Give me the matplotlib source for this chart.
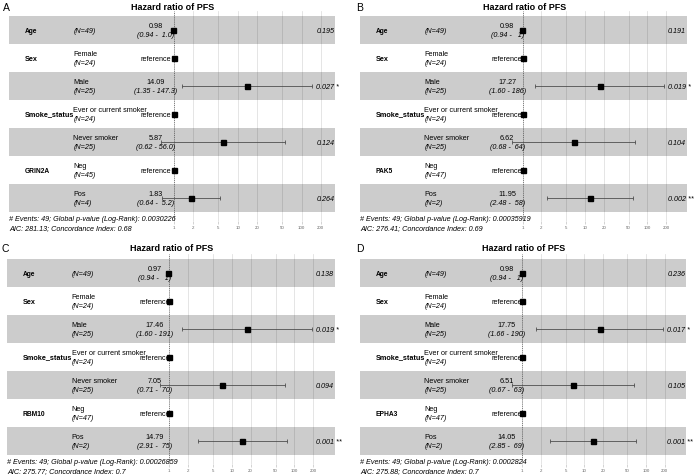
import numpy as np
import matplotlib
matplotlib.use("Agg")
import matplotlib.pyplot as plt
from matplotlib.transforms import offset_copy
from matplotlib.ticker import NullLocator, FixedLocator, FixedFormatter

plt.rcParams["font.family"] = ["Liberation Sans", "DejaVu Sans"]

W, H, DPI = 694, 477, 100
nan = np.nan

# ---------------- data ----------------
title = "Hazard ratio of PFS"
panel_letters = ["A", "B", "C", "D"]
genes = ["GRIN2A", "PAK5", "RBM10", "EPHA3"]
base_variables = ["Age", "Sex", "", "Smoke_status", "", None, ""]
levels = ["", "Female", "Male", "Ever or current smoker", "Never smoker", "Neg", "Pos"]
breaks = [1, 2, 5, 10, 20, 50, 100, 200]
break_labels = ["1", "2", "5", "10", "20", "50", "100", "200"]

n_A = [49, 24, 25, 24, 25, 45, 4]
hr_A = [0.98, 1, 14.09, 1, 5.87, 1, 1.83]
lo_A = [0.94, nan, 1.35, nan, 0.62, nan, 0.64]
hi_A = [1.0, nan, 147.3, nan, 56.0, nan, 5.2]
est_A = ["0.98", "reference", "14.09", "reference", "5.87", "reference", "1.83"]
ci_A = ["(0.94 -  1.0)", "", "(1.35 - 147.3)", "", "(0.62 - 56.0)", "", "(0.64 -  5.2)"]
p_A = ["0.195", "", "0.027 *", "", "0.124", "", "0.264"]
foot_A = ["# Events: 49; Global p-value (Log-Rank): 0.0030226",
          "AIC: 281.13; Concordance Index: 0.68"]

n_B = [49, 24, 25, 24, 25, 47, 2]
hr_B = [0.98, 1, 17.27, 1, 6.62, 1, 11.95]
lo_B = [0.94, nan, 1.60, nan, 0.68, nan, 2.48]
hi_B = [1.0, nan, 186, nan, 64, nan, 58]
est_B = ["0.98", "reference", "17.27", "reference", "6.62", "reference", "11.95"]
ci_B = ["(0.94 -   1)", "", "(1.60 - 186)", "", "(0.68 -  64)", "", "(2.48 -  58)"]
p_B = ["0.191", "", "0.019 *", "", "0.104", "", "0.002 **"]
foot_B = ["# Events: 49; Global p-value (Log-Rank): 0.00035919",
          "AIC: 276.41; Concordance Index: 0.69"]

n_C = [49, 24, 25, 24, 25, 47, 2]
hr_C = [0.97, 1, 17.46, 1, 7.05, 1, 14.79]
lo_C = [0.94, nan, 1.60, nan, 0.71, nan, 2.91]
hi_C = [1.0, nan, 191, nan, 70, nan, 75]
est_C = ["0.97", "reference", "17.46", "reference", "7.05", "reference", "14.79"]
ci_C = ["(0.94 -   1)", "", "(1.60 - 191)", "", "(0.71 -  70)", "", "(2.91 -  75)"]
p_C = ["0.138", "", "0.019 *", "", "0.094", "", "0.001 **"]
foot_C = ["# Events: 49; Global p-value (Log-Rank): 0.00026859",
          "AIC: 275.77; Concordance Index: 0.7"]

n_D = [49, 24, 25, 24, 25, 47, 2]
hr_D = [0.98, 1, 17.75, 1, 6.51, 1, 14.05]
lo_D = [0.94, nan, 1.66, nan, 0.67, nan, 2.85]
hi_D = [1.0, nan, 190, nan, 63, nan, 69]
est_D = ["0.98", "reference", "17.75", "reference", "6.51", "reference", "14.05"]
ci_D = ["(0.94 -   1)", "", "(1.66 - 190)", "", "(0.67 -  63)", "", "(2.85 -  69)"]
p_D = ["0.236", "", "0.017 *", "", "0.105", "", "0.001 **"]
foot_D = ["# Events: 49; Global p-value (Log-Rank): 0.0002824",
          "AIC: 275.88; Concordance Index: 0.7"]

panels = [
    dict(n=n_A, hr=hr_A, lo=lo_A, hi=hi_A, est=est_A, ci=ci_A, p=p_A, foot=foot_A),
    dict(n=n_B, hr=hr_B, lo=lo_B, hi=hi_B, est=est_B, ci=ci_B, p=p_B, foot=foot_B),
    dict(n=n_C, hr=hr_C, lo=lo_C, hi=hi_C, est=est_C, ci=ci_C, p=p_C, foot=foot_C),
    dict(n=n_D, hr=hr_D, lo=lo_D, hi=hi_D, est=est_D, ci=ci_D, p=p_D, foot=foot_D),
]

# ---------------- layout (pixels) ----------------
geoms = [
    dict(bl=9, br=335, bt=17, ty=8, lx=3, ly=8),
    dict(bl=360, br=687, bt=17, ty=8, lx=356, ly=8),
    dict(bl=7, br=335, bt=260, ty=249, lx=2, ly=249),
    dict(bl=360, br=686, bt=260, ty=249, lx=356, ly=249),
]
ROW_H = 28
TOP_PAD, BOT_PAD = 5, 9
FS = 5.2

fig = plt.figure(figsize=(W / DPI, H / DPI), dpi=DPI)
fig.patch.set_facecolor("white")

for k, (pd_, g) in enumerate(zip(panels, geoms)):
    hr = np.array(pd_["hr"], float)
    lo = np.array(pd_["lo"], float)
    hi = np.array(pd_["hi"], float)
    nrow = len(hr)
    rows = np.arange(1, nrow + 1)

    rb_lo, rb_hi = np.log10(np.nanmin(lo)), np.log10(np.nanmax(hi))
    d = rb_hi - rb_lo
    rp_lo, rp_hi = rb_lo - d, rb_hi + 0.15 * d
    w = rp_hi - rp_lo

    bw = g["br"] - g["bl"]
    left = g["bl"] - 0.02 * bw
    right = g["br"] + 0.02 * bw
    top = g["bt"] - TOP_PAD
    bottom = g["bt"] + nrow * ROW_H + BOT_PAD
    ax = fig.add_axes([left / W, 1 - bottom / H, (right - left) / W, (bottom - top) / H])
    ax.set_xscale("log")
    ax.set_xlim(10 ** (rp_lo - 0.02 * w), 10 ** (rp_hi + 0.02 * w))
    ax.set_ylim(nrow + 0.5 + BOT_PAD / ROW_H, 0.5 - TOP_PAD / ROW_H)
    for s in ax.spines.values():
        s.set_visible(False)
    ax.set_facecolor("white")

    ax.xaxis.set_major_locator(FixedLocator(breaks))
    ax.xaxis.set_major_formatter(FixedFormatter(break_labels))
    ax.xaxis.set_minor_locator(NullLocator())
    ax.set_yticks([])
    ax.tick_params(axis="x", length=2, width=0.4, color="#B3B3B3", pad=1.0,
                   labelsize=3.2, labelcolor="#666666")
    ax.grid(axis="x", color="#DEDEDE", lw=0.55, zorder=0)
    ax.set_axisbelow(True)

    # alternating bands
    x0, x1 = 10 ** rp_lo, 10 ** rp_hi
    band_rows = rows[rows % 2 == 1]
    ax.barh(band_rows, [x1 - x0] * len(band_rows), left=x0, height=1.0,
            color="black", alpha=0.2, lw=0, zorder=1)

    # reference line
    ax.axvline(1, color="#555555", lw=0.55, ls=(0, (1.2, 1.6)), zorder=2)

    # error bars and points
    m = ~np.isnan(lo)
    ax.errorbar(hr[m], rows[m], xerr=[hr[m] - lo[m], hi[m] - hr[m]], fmt="none",
                ecolor="#444444", elinewidth=0.55, capsize=1.5, capthick=0.55, zorder=3)
    ax.plot(hr, rows, "s", ms=3.6, color="black", zorder=4)

    # annotations
    xv = 10 ** (rp_lo + 0.048 * w)
    xl = 10 ** (rp_lo + 0.197 * w)
    xc = 10 ** (rp_lo + 0.45 * w)
    variables = [genes[k] if v is None else v for v in base_variables]
    tr_p = offset_copy(ax.transData, fig=fig, x=4.0, y=0, units="dots")
    for i, r in enumerate(rows):
        v = variables[i]
        if v:
            big = v in ("Sex", "Smoke_status")
            ax.text(xv, r, v, ha="left", va="center", fontweight="bold",
                    fontsize=5.2 if big else 4.8, zorder=5)
        ntxt = "(N=%d)" % pd_["n"][i]
        if levels[i]:
            ax.text(xl, r - 0.02, levels[i], ha="left", va="bottom", fontsize=FS, zorder=5)
            ax.text(xl, r + 0.02, ntxt, ha="left", va="top", fontsize=FS,
                    style="italic", zorder=5)
        else:
            ax.text(xl, r, ntxt, ha="left", va="center", fontsize=FS,
                    style="italic", zorder=5)
        e = pd_["est"][i]
        if e == "reference":
            ax.text(xc, r, e, ha="center", va="center", fontsize=FS, zorder=5)
        else:
            ax.text(xc, r - 0.02, e, ha="center", va="bottom", fontsize=FS, zorder=5)
            ax.text(xc, r + 0.02, pd_["ci"][i], ha="center", va="top", fontsize=FS,
                    style="italic", zorder=5)
        if pd_["p"][i]:
            ax.text(10 ** rb_hi, r, pd_["p"][i], ha="left", va="center", fontsize=FS,
                    style="italic", transform=tr_p, zorder=5, clip_on=False)

    # footer (two lines)
    yb = nrow + 0.5
    ax.text(x0, yb + 6.5 / ROW_H, pd_["foot"][0], ha="left", va="center",
            fontsize=FS, style="italic", zorder=5)
    ax.text(x0, yb + 15.5 / ROW_H, pd_["foot"][1], ha="left", va="center",
            fontsize=FS, style="italic", zorder=5)

    # title and panel letter
    fig.text((g["bl"] + g["br"]) / 2 / W + 1 / W, 1 - g["ty"] / H, title, ha="center",
             va="center", fontsize=6.5, fontweight="bold")
    fig.text(g["lx"] / W, 1 - g["ly"] / H, panel_letters[k], ha="left", va="center",
             fontsize=7.5)

fig.savefig("out.png", dpi=DPI, facecolor="white")
